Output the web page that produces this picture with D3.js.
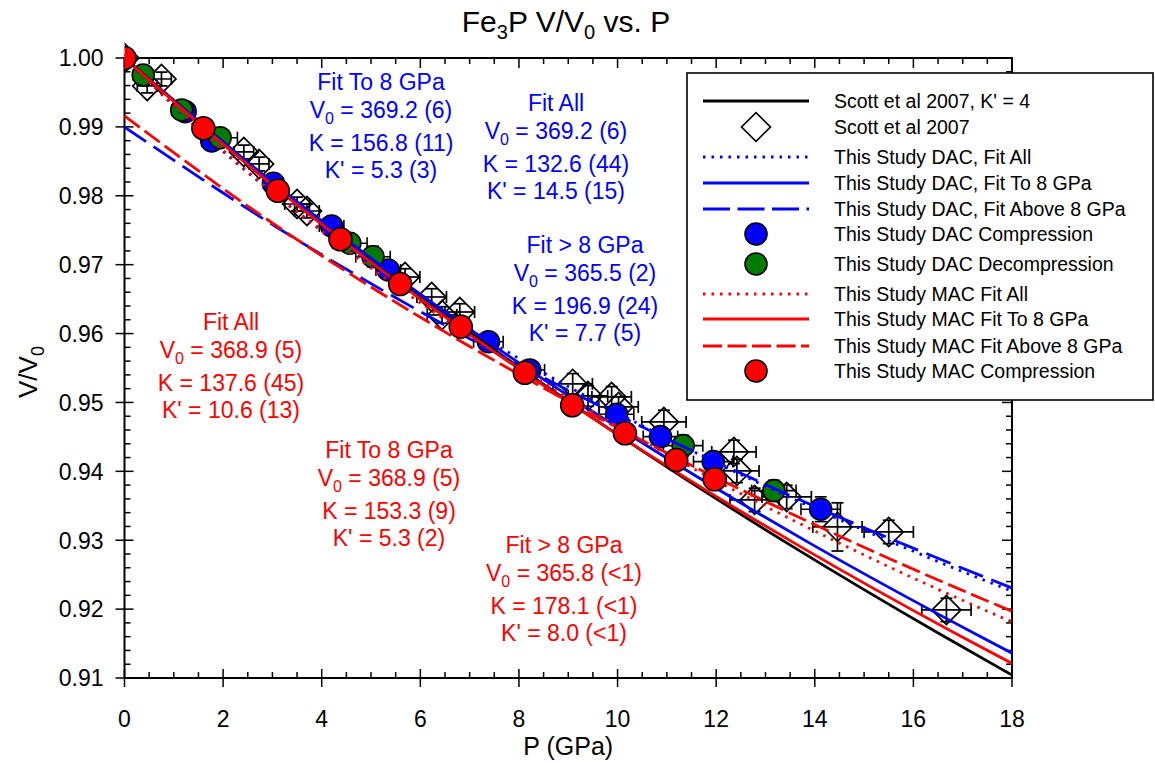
<!DOCTYPE html>
<html>
<head>
<meta charset="utf-8">
<script src="https://cdn.jsdelivr.net/npm/d3@7"></script>
<style>
  body { margin: 0; background: #fff; }
  svg text { font-family: Arial, "Liberation Sans", sans-serif; }
</style>
</head>
<body>
<div id="chart"></div>
<script>
// axis ticks
const xTicks = [0, 2, 4, 6, 8, 10, 12, 14, 16, 18]
const yTicks = [0.91, 0.92, 0.93, 0.94, 0.95, 0.96, 0.97, 0.98, 0.99, 1.00]

// fitted EOS curves, [P (GPa), V/V0]
const scottFit = [[0, 1], [2.445, 0.98519], [5.012, 0.97073], [7.704, 0.95662], [10.523, 0.94287], [13.472, 0.92943], [16.554, 0.91631], [18, 0.91043]]
const dacFitAll = [[0, 1], [2.200, 0.98519], [4.838, 0.97073], [7.943, 0.95662], [11.540, 0.94287], [15.659, 0.92943], [17.923, 0.92283], [18, 0.92262]]
const dacFitTo8 = [[0, 1], [2.435, 0.98519], [5.039, 0.97073], [7.819, 0.95662], [10.782, 0.94287], [13.933, 0.92943], [17.280, 0.91631], [18, 0.91360]]
const dacFitAbove8 = [[0, 0.98998], [3.112, 0.97532], [6.551, 0.96100], [10.334, 0.94703], [14.478, 0.93342], [18, 0.92306]]
const macFitAll = [[0, 1], [2.221, 0.98519], [4.767, 0.97073], [7.657, 0.95662], [10.910, 0.94287], [14.544, 0.92943], [16.511, 0.92283], [18, 0.91814]]
const macFitTo8 = [[0, 1], [2.380, 0.98519], [4.927, 0.97073], [7.645, 0.95662], [10.541, 0.94287], [13.622, 0.92943], [16.894, 0.91631], [18, 0.91212]]
const macFitAbove8 = [[0, 0.99160], [2.821, 0.97691], [5.951, 0.96258], [9.406, 0.94858], [13.201, 0.93495], [17.354, 0.92162], [18, 0.91969]]

// Scott et al 2007 data
const scottP = [0, 0.46, 0.75, 2.42, 2.73, 3.50, 3.70, 5.69, 6.23, 6.44, 6.80, 9.09, 9.40, 9.88, 10.02, 10.94, 12.36, 12.42, 12.78, 13.43, 14.46, 15.50, 16.67]
const scottV = [1.0, 0.99594, 0.99695, 0.98636, 0.98462, 0.97881, 0.97779, 0.96821, 0.96531, 0.96270, 0.96313, 0.95269, 0.95094, 0.95080, 0.94935, 0.94717, 0.94282, 0.94006, 0.93585, 0.93628, 0.93193, 0.93120, 0.91988]
const scottPErr = [0.05, 0.2, 0.2, 0.2, 0.2, 0.25, 0.25, 0.3, 0.3, 0.3, 0.3, 0.4, 0.4, 0.4, 0.4, 0.45, 0.45, 0.45, 0.5, 0.5, 0.5, 0.5, 0.5]
const scottVErr = [0.0005, 0.001, 0.001, 0.001, 0.001, 0.001, 0.001, 0.0012, 0.0012, 0.0012, 0.0012, 0.0015, 0.0015, 0.0015, 0.0015, 0.0017, 0.0017, 0.0017, 0.0017, 0.0017, 0.0035, 0.0017, 0.0017]

// This study, DAC compression
const dacCompP = [1.23, 1.77, 3.02, 4.20, 5.35, 7.38, 8.22, 9.98, 10.87, 11.94, 14.12]
const dacCompV = [0.99221, 0.98795, 0.98181, 0.97562, 0.96923, 0.95882, 0.95472, 0.94829, 0.94504, 0.94141, 0.93450]
const dacCompPErr = [0.2, 0.2, 0.2, 0.25, 0.25, 0.3, 0.3, 0.35, 0.35, 0.4, 0.4]
const dacCompVErr = [0.0008, 0.0008, 0.0008, 0.001, 0.001, 0.001, 0.001, 0.0012, 0.0012, 0.0012, 0.0018]

// This study, DAC decompression
const dacDecP = [0.38, 1.16, 1.94, 4.57, 5.04, 11.33, 13.17]
const dacDecV = [0.99753, 0.99245, 0.98843, 0.97311, 0.97116, 0.94373, 0.93720]
const dacDecPErr = [0.2, 0.2, 0.35, 0.35, 0.35, 0.4, 0.45]
const dacDecVErr = [0.0012, 0.0010, 0.0010, 0.0012, 0.0015, 0.0015, 0.0015]

// This study, MAC compression
const macP = [0, 1.60, 3.11, 4.38, 5.59, 6.82, 8.12, 9.08, 10.15, 11.19, 11.97]
const macV = [1.0, 0.98980, 0.98074, 0.97369, 0.96720, 0.96100, 0.95432, 0.94959, 0.94553, 0.94165, 0.93885]

const legendLabels = [
    "Scott et al 2007, K' = 4",
    "Scott et al 2007",
    "This Study DAC, Fit All",
    "This Study DAC, Fit To 8 GPa",
    "This Study DAC, Fit Above 8 GPa",
    "This Study DAC Compression",
    "This Study DAC Decompression",
    "This Study MAC Fit All",
    "This Study MAC Fit To 8 GPa",
    "This Study MAC Fit Above 8 GPa",
    "This Study MAC Compression"
]

const BLUE = "#0000ff", RED = "#ff0000", GREEN = "#007a00"

const W = 1155, H = 763
const plot = { left: 124.5, right: 1012, top: 58, bottom: 678 }

const svg = d3.select("#chart").append("svg")
    .attr("width", W).attr("height", H)

const x = d3.scaleLinear().domain([0, 18]).range([plot.left, plot.right])
const y = d3.scaleLinear().domain([0.91, 1.00]).range([plot.bottom, plot.top])

svg.append("defs").append("clipPath").attr("id", "clip")
    .append("rect")
    .attr("x", plot.left).attr("y", plot.top - 20)
    .attr("width", plot.right - plot.left).attr("height", plot.bottom - plot.top + 20)

// title
const title = svg.append("text")
    .attr("x", 566).attr("y", 32)
    .attr("text-anchor", "middle")
    .style("font-size", "30px")
title.append("tspan").text("Fe")
title.append("tspan").attr("dy", 7).style("font-size", "20px").text("3")
title.append("tspan").attr("dy", -7).text("P V/V")
title.append("tspan").attr("dy", 7).style("font-size", "20px").text("0")
title.append("tspan").attr("dy", -7).text(" vs. P")

// axis frame + ticks
const axisG = svg.append("g").attr("stroke", "#000").attr("stroke-width", 1.5)
axisG.append("rect")
    .attr("x", plot.left).attr("y", plot.top)
    .attr("width", plot.right - plot.left).attr("height", plot.bottom - plot.top)
    .attr("fill", "none").attr("stroke-width", 2)

const xMinor = d3.range(0, 18.001, 0.5).filter(v => Math.abs(v / 2 - Math.round(v / 2)) > 1e-6)
const yMinor = d3.range(0.91, 1.0001, 0.002).filter(v => Math.abs(v * 100 - Math.round(v * 100)) > 1e-6)

xTicks.forEach(t => {
    axisG.append("line").attr("x1", x(t)).attr("x2", x(t)).attr("y1", plot.bottom - 9).attr("y2", plot.bottom + 9)
    axisG.append("line").attr("x1", x(t)).attr("x2", x(t)).attr("y1", plot.top).attr("y2", plot.top + 10)
})
xMinor.forEach(t => {
    axisG.append("line").attr("x1", x(t)).attr("x2", x(t)).attr("y1", plot.bottom - 6).attr("y2", plot.bottom)
    axisG.append("line").attr("x1", x(t)).attr("x2", x(t)).attr("y1", plot.top).attr("y2", plot.top + 6)
})
yTicks.forEach(t => {
    axisG.append("line").attr("x1", plot.left - 9).attr("x2", plot.left + 9).attr("y1", y(t)).attr("y2", y(t))
    axisG.append("line").attr("x1", plot.right - 10).attr("x2", plot.right).attr("y1", y(t)).attr("y2", y(t))
})
yMinor.forEach(t => {
    axisG.append("line").attr("x1", plot.left).attr("x2", plot.left + 6).attr("y1", y(t)).attr("y2", y(t))
    axisG.append("line").attr("x1", plot.right - 6).attr("x2", plot.right).attr("y1", y(t)).attr("y2", y(t))
})

svg.append("g").selectAll("text")
    .data(xTicks)
    .join("text")
    .attr("x", d => x(d)).attr("y", plot.bottom + 49)
    .attr("text-anchor", "middle")
    .style("font-size", "23px")
    .text(d => d)

svg.append("g").selectAll("text")
    .data(yTicks)
    .join("text")
    .attr("x", plot.left - 21).attr("y", d => y(d))
    .attr("dy", "0.36em")
    .attr("text-anchor", "end")
    .style("font-size", "23px")
    .text(d => d.toFixed(2))

svg.append("text")
    .attr("x", (plot.left + plot.right) / 2).attr("y", plot.bottom + 77)
    .attr("text-anchor", "middle")
    .style("font-size", "25px")
    .text("P (GPa)")

const yl = svg.append("text")
    .attr("transform", `translate(37, ${(plot.top + plot.bottom) / 2 + 4}) rotate(-90)`)
    .attr("text-anchor", "middle")
    .style("font-size", "26px")
yl.append("tspan").text("V/V")
yl.append("tspan").attr("dy", 7).style("font-size", "18px").text("0")

// data layers
const dataG = svg.append("g").attr("clip-path", "url(#clip)")

function errorBars(g, P, V, dP, dV) {
    const cap = 6
    P.forEach((p, i) => {
        const cx = x(p), cy = y(V[i])
        const x0 = x(p - dP[i]), x1 = x(p + dP[i])
        const y0 = y(V[i] - dV[i]), y1 = y(V[i] + dV[i])
        g.append("line").attr("x1", x0).attr("x2", x1).attr("y1", cy).attr("y2", cy)
        g.append("line").attr("x1", x0).attr("x2", x0).attr("y1", cy - cap).attr("y2", cy + cap)
        g.append("line").attr("x1", x1).attr("x2", x1).attr("y1", cy - cap).attr("y2", cy + cap)
        g.append("line").attr("x1", cx).attr("x2", cx).attr("y1", y0).attr("y2", y1)
        g.append("line").attr("x1", cx - cap).attr("x2", cx + cap).attr("y1", y0).attr("y2", y0)
        g.append("line").attr("x1", cx - cap).attr("x2", cx + cap).attr("y1", y1).attr("y2", y1)
    })
}

const diamond = d3.symbol().type(d3.symbolSquare).size(420)

// Scott data
const scottG = dataG.append("g").attr("stroke", "#000").attr("stroke-width", 1.7)
errorBars(scottG, scottP, scottV, scottPErr, scottVErr)
scottG.selectAll("path")
    .data(scottP)
    .join("path")
    .attr("d", diamond)
    .attr("transform", (d, i) => `translate(${x(d)},${y(scottV[i])}) rotate(45)`)
    .attr("fill", "none")

// DAC points
const dacG = dataG.append("g").attr("stroke", "#000").attr("stroke-width", 1.6)
errorBars(dacG, dacCompP, dacCompV, dacCompPErr, dacCompVErr)
errorBars(dacG, dacDecP, dacDecV, dacDecPErr, dacDecVErr)
dacG.selectAll(".comp")
    .data(dacCompP)
    .join("circle")
    .attr("class", "comp")
    .attr("cx", d => x(d)).attr("cy", (d, i) => y(dacCompV[i]))
    .attr("r", 11).attr("fill", BLUE)
dacG.selectAll(".dec")
    .data(dacDecP)
    .join("circle")
    .attr("class", "dec")
    .attr("cx", d => x(d)).attr("cy", (d, i) => y(dacDecV[i]))
    .attr("r", 11).attr("fill", GREEN)

// fit curves
const line = d3.line()
    .x(d => x(d[0])).y(d => y(d[1]))
    .curve(d3.curveMonotoneX)

const curves = [
    { data: scottFit, color: "#000", dash: null },
    { data: dacFitAll, color: BLUE, dash: "2.5,6" },
    { data: dacFitTo8, color: BLUE, dash: null },
    { data: dacFitAbove8, color: BLUE, dash: "26,9" },
    { data: macFitAll, color: RED, dash: "2.5,6" },
    { data: macFitTo8, color: RED, dash: null },
    { data: macFitAbove8, color: RED, dash: "19,6" }
]
dataG.append("g").selectAll("path")
    .data(curves)
    .join("path")
    .attr("d", d => line(d.data))
    .attr("fill", "none")
    .attr("stroke", d => d.color)
    .attr("stroke-width", 2.8)
    .attr("stroke-dasharray", d => d.dash)

// MAC points
dataG.append("g").selectAll("circle")
    .data(macP)
    .join("circle")
    .attr("cx", d => x(d)).attr("cy", (d, i) => y(macV[i]))
    .attr("r", 11.5)
    .attr("fill", RED).attr("stroke", "#000").attr("stroke-width", 1.6)

// fit annotations
const notes = [
    { color: BLUE, cx: 381, top: 82, lines: ["Fit To 8 GPa", "V0 = 369.2 (6)", "K = 156.8 (11)", "K' = 5.3 (3)"] },
    { color: BLUE, cx: 556, top: 103, lines: ["Fit All", "V0 = 369.2 (6)", "K = 132.6 (44)", "K' = 14.5 (15)"] },
    { color: BLUE, cx: 585, top: 245, lines: ["Fit > 8 GPa", "V0 = 365.5 (2)", "K = 196.9 (24)", "K' = 7.7 (5)"] },
    { color: RED, cx: 231, top: 322, lines: ["Fit All", "V0 = 368.9 (5)", "K = 137.6 (45)", "K' = 10.6 (13)"] },
    { color: RED, cx: 389, top: 450, lines: ["Fit To 8 GPa", "V0 = 368.9 (5)", "K = 153.3 (9)", "K' = 5.3 (2)"] },
    { color: RED, cx: 564, top: 545, lines: ["Fit > 8 GPa", "V0 = 365.8 (<1)", "K = 178.1 (<1)", "K' = 8.0 (<1)"] }
]
const lineOffsets = [0, 28, 61, 88]
notes.forEach(n => {
    n.lines.forEach((s, i) => {
        const t = svg.append("text")
            .attr("x", n.cx).attr("y", n.top + lineOffsets[i])
            .attr("dy", "0.36em")
            .attr("text-anchor", "middle")
            .attr("fill", n.color)
            .style("font-size", "23px")
        if (s.startsWith("V0")) {
            t.append("tspan").text("V")
            t.append("tspan").attr("dy", 6).style("font-size", "16px").text("0")
            t.append("tspan").attr("dy", -6).text(s.slice(2))
        } else {
            t.text(s)
        }
    })
})

// legend
const lg = svg.append("g")
lg.append("rect")
    .attr("x", 687).attr("y", 73).attr("width", 466).attr("height", 327)
    .attr("fill", "#fff").attr("stroke", "#000").attr("stroke-width", 1.6)

const legendRows = [101, 127, 157, 183, 209, 234, 264, 294, 319, 346, 371]
const legendSym = [
    { kind: "line", color: "#000", dash: null },
    { kind: "diamond" },
    { kind: "line", color: BLUE, dash: "2.5,6" },
    { kind: "line", color: BLUE, dash: null },
    { kind: "line", color: BLUE, dash: "27,7.5" },
    { kind: "circle", color: BLUE },
    { kind: "circle", color: GREEN },
    { kind: "line", color: RED, dash: "2.5,6" },
    { kind: "line", color: RED, dash: null },
    { kind: "line", color: RED, dash: "19,5.5" },
    { kind: "circle", color: RED }
]
legendLabels.forEach((label, i) => {
    const ry = legendRows[i]
    const s = legendSym[i]
    if (s.kind === "line") {
        lg.append("line")
            .attr("x1", 703).attr("x2", 809).attr("y1", ry).attr("y2", ry)
            .attr("stroke", s.color).attr("stroke-width", 2.8)
            .attr("stroke-dasharray", s.dash)
    } else if (s.kind === "circle") {
        lg.append("circle")
            .attr("cx", 756).attr("cy", ry).attr("r", 11)
            .attr("fill", s.color).attr("stroke", "#000").attr("stroke-width", 1.6)
    } else {
        lg.append("path")
            .attr("d", diamond)
            .attr("transform", `translate(756,${ry}) rotate(45)`)
            .attr("fill", "#fff").attr("stroke", "#000").attr("stroke-width", 1.6)
    }
    lg.append("text")
        .attr("x", 834).attr("y", ry)
        .attr("dy", "0.36em")
        .style("font-size", "19.5px")
        .text(label)
})
</script>
</body>
</html>
